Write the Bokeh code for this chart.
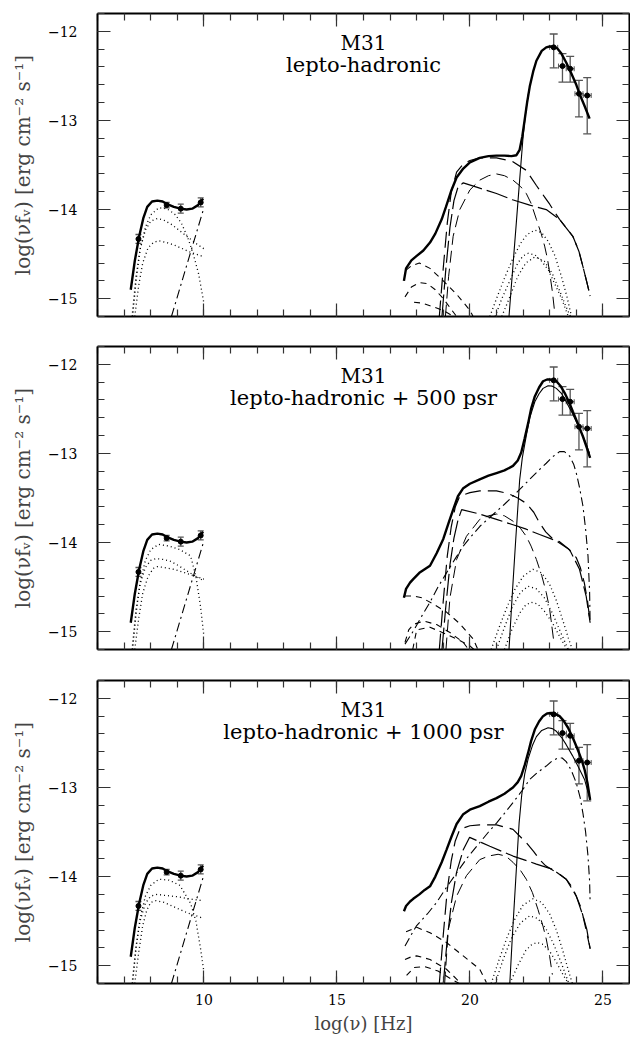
from bokeh.plotting import figure
from bokeh.layouts import column
from bokeh.models import (Range1d, LinearAxis, SingleIntervalTicker, CustomJSTickFormatter,
                          Whisker, ColumnDataSource, TeeHead, CustomLabelingPolicy)
from bokeh.core.properties import value
from bokeh.embed import file_html
from bokeh.resources import INLINE

FONT = "DejaVu Serif"

# ---------------- observations (same in every panel) ----------------
radio_x = [7.54, 8.60, 9.13, 9.88]
radio_y = [-14.33, -13.95, -13.99, -13.92]
radio_err = [0.05, 0.03, 0.05, 0.05]
gamma_x = [23.15, 23.48, 23.77, 24.10, 24.41]
gamma_y = [-12.18, -12.39, -12.42, -12.70, -12.72]
gamma_lo = [-12.41, -12.57, -12.57, -12.96, -13.15]
gamma_hi = [-12.03, -12.25, -12.28, -12.55, -12.52]
gamma_xerr = [0.15, 0.15, 0.15, 0.15, 0.15]

panel_titles = ["lepto-hadronic", "lepto-hadronic + 500 psr", "lepto-hadronic + 1000 psr"]
source_name = "M31"
x_label = "log(\u03bd) [Hz]"
y_label = "log(\u03bdf\u1d65) [erg cm\u207b\u00b2 s\u207b\u00b9]"

# ---------------- radio part ----------------
radio_total_x = [7.25, 7.40, 7.56, 7.72, 7.87, 8.05, 8.25, 8.45, 8.62, 8.87, 9.12, 9.35, 9.56, 9.78, 9.97]
radio_total_y = [-14.90, -14.58, -14.31, -14.10, -13.97, -13.91, -13.90, -13.91, -13.94, -13.97, -13.99, -14.00, -13.99, -13.95, -13.88]
radio_dd_x = [8.78, 9.20, 9.60, 10.00]
radio_dd_y = [-15.20, -14.78, -14.38, -13.98]

p1_rd1_x = [7.32, 7.45, 7.60, 7.80, 8.00, 8.30, 8.60, 8.90, 9.15, 9.40, 9.60, 9.80, 10.00]
p1_rd1_y = [-15.20, -14.80, -14.45, -14.20, -14.06, -13.98, -13.99, -14.05, -14.15, -14.32, -14.50, -14.72, -15.05]
p1_rd2_x = [7.30, 7.45, 7.60, 7.80, 8.00, 8.25, 8.50, 8.80, 9.10, 9.40, 9.70, 10.00]
p1_rd2_y = [-15.20, -14.75, -14.45, -14.23, -14.13, -14.10, -14.12, -14.17, -14.24, -14.31, -14.38, -14.44]
p1_rd3_x = [7.40, 7.55, 7.70, 7.90, 8.10, 8.30, 8.60, 8.90, 9.20, 9.50, 9.80, 10.00]
p1_rd3_y = [-15.20, -14.85, -14.60, -14.43, -14.37, -14.35, -14.37, -14.40, -14.44, -14.48, -14.51, -14.53]

p2_rd1_x = [7.32, 7.45, 7.60, 7.80, 8.00, 8.30, 8.69, 9.10, 9.50, 9.70, 9.87, 10.00]
p2_rd1_y = [-15.20, -14.80, -14.45, -14.20, -14.08, -14.02, -14.04, -14.08, -14.15, -14.38, -14.71, -15.05]
p2_rd2_x = [7.30, 7.45, 7.60, 7.80, 8.00, 8.19, 8.50, 8.75, 9.05, 9.37, 9.70, 10.00]
p2_rd2_y = [-15.20, -14.75, -14.47, -14.28, -14.20, -14.18, -14.19, -14.21, -14.26, -14.32, -14.38, -14.43]
p2_rd3_x = [7.40, 7.55, 7.70, 7.90, 8.10, 8.25, 8.50, 8.87, 9.20, 9.50, 9.80, 10.00]
p2_rd3_y = [-15.20, -14.85, -14.57, -14.38, -14.29, -14.27, -14.28, -14.30, -14.33, -14.36, -14.39, -14.41]

p3_rd1_x = [7.32, 7.45, 7.60, 7.80, 8.00, 8.30, 8.69, 9.10, 9.50, 9.70, 9.87, 10.00]
p3_rd1_y = [-15.20, -14.80, -14.47, -14.22, -14.10, -14.03, -14.04, -14.10, -14.30, -14.50, -14.80, -15.07]
p3_rd2_x = [7.30, 7.45, 7.60, 7.80, 8.00, 8.25, 8.50, 8.80, 9.10, 9.40, 9.70, 9.94]
p3_rd2_y = [-15.20, -14.78, -14.50, -14.30, -14.22, -14.20, -14.21, -14.22, -14.23, -14.25, -14.26, -14.27]
p3_rd3_x = [7.40, 7.55, 7.70, 7.85, 8.00, 8.20, 8.50, 8.80, 9.10, 9.40, 9.70, 10.00]
p3_rd3_y = [-15.20, -14.85, -14.55, -14.38, -14.29, -14.27, -14.29, -14.33, -14.37, -14.41, -14.44, -14.47]

# ---------------- high-energy part, panel 1 ----------------
p1_tot_x = [17.52, 17.60, 17.80, 18.00, 18.25, 18.50, 18.70, 18.94, 19.10, 19.31, 19.50, 19.75, 20.00, 20.37, 20.70, 21.00, 21.30, 21.56, 21.75, 21.87, 21.97, 22.06, 22.15, 22.25, 22.38, 22.50, 22.70, 22.87, 23.00, 23.12, 23.28, 23.44, 23.62, 23.81, 24.00, 24.12, 24.30, 24.50]
p1_tot_y = [-14.80, -14.66, -14.57, -14.52, -14.46, -14.37, -14.27, -14.11, -13.97, -13.78, -13.64, -13.54, -13.47, -13.42, -13.40, -13.395, -13.395, -13.40, -13.39, -13.33, -13.18, -12.99, -12.80, -12.62, -12.45, -12.33, -12.22, -12.18, -12.17, -12.17, -12.19, -12.25, -12.35, -12.47, -12.60, -12.70, -12.83, -12.98]
p1_pi_x = [21.47, 21.60, 21.75, 21.87, 22.00, 22.10, 22.20]
p1_pi_y = [-15.20, -14.70, -14.13, -13.67, -13.18, -12.90, -12.70]
p1_L1_x = [18.85, 19.00, 19.15, 19.30, 19.50, 19.75, 20.00, 20.37, 21.00, 21.60, 22.12, 22.50, 22.81, 23.00, 23.19, 23.37, 23.87, 24.10, 24.25, 24.40, 24.52]
p1_L1_y = [-15.20, -14.65, -14.15, -13.80, -13.58, -13.49, -13.45, -13.42, -13.42, -13.46, -13.56, -13.73, -13.86, -13.94, -14.03, -14.11, -14.30, -14.47, -14.64, -14.82, -14.97]
p1_L2_x = [18.95, 19.10, 19.25, 19.40, 19.55, 19.75, 20.37, 21.00, 21.60, 22.25, 22.87, 23.37, 23.87, 24.10, 24.25, 24.40, 24.52]
p1_L2_y = [-15.20, -14.65, -14.20, -13.90, -13.75, -13.70, -13.76, -13.82, -13.89, -13.95, -14.00, -14.11, -14.30, -14.47, -14.64, -14.82, -14.97]
p1_L3_x = [19.08, 19.20, 19.37, 19.62, 20.00, 20.37, 20.70, 21.00, 21.30, 21.62, 21.90, 22.12, 22.30, 22.50, 22.68, 22.81, 22.92, 23.00, 23.10, 23.19]
p1_L3_y = [-15.20, -14.75, -14.30, -14.00, -13.78, -13.67, -13.62, -13.60, -13.62, -13.67, -13.74, -13.82, -13.93, -14.11, -14.27, -14.41, -14.56, -14.71, -14.92, -15.16]
p1_d1_x = [20.75, 21.00, 21.30, 21.60, 21.90, 22.15, 22.44, 22.70, 22.95, 23.20, 23.45, 23.65, 23.82]
p1_d1_y = [-15.20, -15.00, -14.77, -14.56, -14.38, -14.28, -14.23, -14.26, -14.36, -14.52, -14.76, -14.98, -15.20]
p1_d2_x = [20.95, 21.20, 21.50, 21.80, 22.00, 22.20, 22.45, 22.70, 22.95, 23.20, 23.45, 23.70]
p1_d2_y = [-15.20, -15.00, -14.80, -14.60, -14.52, -14.49, -14.51, -14.58, -14.68, -14.84, -15.00, -15.20]
p1_d3_x = [21.20, 21.50, 21.80, 22.10, 22.45, 22.80, 23.10, 23.40, 23.60, 23.78]
p1_d3_y = [-15.20, -14.98, -14.75, -14.60, -14.53, -14.58, -14.72, -14.93, -15.08, -15.20]
p1_S1_x = [17.60, 17.80, 18.10, 18.50, 19.00, 19.50, 20.00, 20.12]
p1_S1_y = [-14.68, -14.63, -14.60, -14.66, -14.80, -14.95, -15.13, -15.20]
p1_S2_x = [17.56, 17.80, 18.10, 18.40, 18.70, 19.00, 19.30, 19.50]
p1_S2_y = [-14.98, -14.87, -14.82, -14.83, -14.90, -15.00, -15.12, -15.20]
p1_S3_x = [17.90, 18.20, 18.50, 18.80, 19.10, 19.40]
p1_S3_y = [-15.04, -15.05, -15.08, -15.11, -15.15, -15.20]

# ---------------- high-energy part, panel 2 ----------------
p2_tot_x = [17.52, 17.60, 17.75, 17.87, 18.10, 18.30, 18.50, 18.75, 19.00, 19.20, 19.37, 19.55, 19.75, 20.00, 20.37, 20.70, 21.00, 21.30, 21.62, 21.80, 21.93, 22.06, 22.19, 22.30, 22.44, 22.60, 22.75, 22.90, 23.00, 23.12, 23.25, 23.40, 23.56, 23.72, 23.87, 24.05, 24.25, 24.40, 24.52]
p2_tot_y = [-14.62, -14.52, -14.45, -14.41, -14.34, -14.30, -14.26, -14.12, -13.96, -13.78, -13.63, -13.48, -13.39, -13.34, -13.29, -13.25, -13.22, -13.19, -13.14, -13.08, -12.99, -12.83, -12.66, -12.50, -12.36, -12.26, -12.19, -12.17, -12.17, -12.175, -12.19, -12.24, -12.32, -12.42, -12.53, -12.66, -12.81, -12.94, -13.05]
p2_pi_x = [21.47, 21.60, 21.72, 21.87, 21.97, 22.12, 22.25, 22.44, 22.60, 22.75, 22.94, 23.10, 23.25, 23.45, 23.62, 23.85, 24.12, 24.30, 24.50]
p2_pi_y = [-15.20, -14.55, -13.98, -13.30, -13.05, -12.80, -12.60, -12.42, -12.33, -12.27, -12.24, -12.245, -12.27, -12.33, -12.42, -12.55, -12.72, -12.84, -13.00]
p2_dd_x = [17.56, 17.90, 18.20, 18.50, 18.80, 19.12, 19.45, 19.75, 20.05, 20.37, 20.70, 21.00, 21.30, 21.62, 21.95, 22.25, 22.55, 22.87, 23.10, 23.37, 23.55, 23.75, 23.90, 24.00, 24.12, 24.25, 24.35, 24.44, 24.50, 24.52]
p2_dd_y = [-15.14, -14.98, -14.82, -14.67, -14.50, -14.34, -14.18, -14.04, -13.93, -13.82, -13.73, -13.65, -13.57, -13.48, -13.38, -13.29, -13.20, -13.11, -13.04, -12.98, -12.98, -13.03, -13.12, -13.22, -13.38, -13.59, -13.85, -14.15, -14.55, -14.90]
p2_L1_x = [18.85, 19.00, 19.15, 19.30, 19.45, 19.62, 20.00, 20.37, 21.00, 21.44, 21.80, 22.12, 22.40, 22.62, 22.85, 23.12, 23.37, 23.70, 24.00, 24.15, 24.30, 24.42, 24.52]
p2_L1_y = [-15.20, -14.65, -14.15, -13.82, -13.60, -13.48, -13.44, -13.42, -13.42, -13.45, -13.50, -13.56, -13.66, -13.78, -13.88, -13.96, -13.99, -14.07, -14.17, -14.28, -14.45, -14.65, -14.90]
p2_L2_x = [18.95, 19.10, 19.25, 19.40, 19.55, 19.69, 20.37, 21.00, 21.62, 22.12, 22.62, 23.25, 23.75, 24.12, 24.37, 24.52]
p2_L2_y = [-15.20, -14.70, -14.25, -13.95, -13.75, -13.63, -13.68, -13.74, -13.80, -13.85, -13.91, -13.98, -14.08, -14.30, -14.60, -14.90]
p2_L3_x = [19.10, 19.25, 19.50, 19.87, 20.37, 20.70, 21.00, 21.30, 21.62, 21.90, 22.12, 22.30, 22.50, 22.70, 22.87, 23.00, 23.15]
p2_L3_y = [-15.20, -14.62, -14.19, -13.93, -13.74, -13.70, -13.68, -13.70, -13.76, -13.84, -13.93, -14.04, -14.19, -14.37, -14.56, -14.75, -15.10]
p2_d1_x = [20.80, 21.10, 21.40, 21.70, 22.00, 22.37, 22.70, 23.00, 23.25, 23.50, 23.70, 23.85]
p2_d1_y = [-15.20, -14.95, -14.72, -14.52, -14.38, -14.30, -14.34, -14.47, -14.65, -14.88, -15.07, -15.20]
p2_d2_x = [21.00, 21.30, 21.60, 21.90, 22.19, 22.50, 22.80, 23.10, 23.40, 23.70]
p2_d2_y = [-15.20, -14.95, -14.72, -14.56, -14.49, -14.52, -14.62, -14.79, -15.00, -15.20]
p2_d3_x = [21.30, 21.60, 21.90, 22.10, 22.31, 22.55, 22.80, 23.10, 23.40, 23.65]
p2_d3_y = [-15.20, -14.96, -14.78, -14.70, -14.67, -14.69, -14.77, -14.90, -15.07, -15.20]
p2_S1_x = [17.56, 17.90, 18.20, 18.62, 19.12, 19.62, 20.12, 20.30]
p2_S1_y = [-14.60, -14.60, -14.62, -14.69, -14.78, -14.91, -15.08, -15.20]
p2_S2_x = [17.56, 17.70, 17.87, 18.25, 18.75, 19.25, 19.75, 19.95]
p2_S2_y = [-15.12, -14.98, -14.92, -14.88, -14.92, -15.01, -15.12, -15.20]
p2_S3_x = [17.85, 18.00, 18.50, 19.12, 19.62, 20.00, 20.15]
p2_S3_y = [-15.20, -14.98, -14.95, -15.03, -15.10, -15.16, -15.20]

# ---------------- high-energy part, panel 3 ----------------
p3_tot_x = [17.52, 17.60, 17.75, 17.87, 18.10, 18.30, 18.50, 18.70, 18.94, 19.12, 19.31, 19.50, 19.75, 20.00, 20.37, 20.70, 21.00, 21.30, 21.62, 21.80, 21.93, 22.06, 22.19, 22.30, 22.44, 22.60, 22.75, 22.90, 23.06, 23.20, 23.37, 23.52, 23.69, 23.88, 24.06, 24.20, 24.31, 24.42, 24.52]
p3_tot_y = [-14.39, -14.33, -14.28, -14.25, -14.20, -14.15, -14.11, -14.00, -13.84, -13.70, -13.55, -13.41, -13.30, -13.25, -13.21, -13.16, -13.12, -13.07, -13.00, -12.94, -12.87, -12.75, -12.61, -12.48, -12.35, -12.26, -12.20, -12.17, -12.165, -12.175, -12.20, -12.25, -12.33, -12.45, -12.58, -12.69, -12.80, -12.95, -13.14]
p3_pi_x = [21.50, 21.60, 21.72, 21.85, 21.95, 22.06, 22.19, 22.35, 22.50, 22.70, 22.94, 23.10, 23.25, 23.45, 23.62, 23.85, 24.06, 24.31, 24.52]
p3_pi_y = [-15.20, -14.65, -14.05, -13.40, -13.08, -12.85, -12.68, -12.53, -12.43, -12.36, -12.33, -12.34, -12.37, -12.44, -12.52, -12.64, -12.76, -12.91, -13.14]
p3_dd_x = [17.56, 17.80, 18.00, 18.40, 18.75, 19.10, 19.50, 19.90, 20.37, 20.70, 21.00, 21.30, 21.62, 21.95, 22.25, 22.55, 22.87, 23.10, 23.31, 23.47, 23.62, 23.80, 24.00, 24.15, 24.25, 24.35, 24.44, 24.50, 24.52]
p3_dd_y = [-14.78, -14.65, -14.55, -14.42, -14.29, -14.13, -13.96, -13.79, -13.62, -13.50, -13.40, -13.29, -13.17, -13.04, -12.91, -12.83, -12.76, -12.70, -12.67, -12.67, -12.71, -12.80, -12.95, -13.12, -13.29, -13.50, -13.77, -14.05, -14.29]
p3_L1_x = [18.85, 19.00, 19.15, 19.30, 19.45, 19.62, 20.00, 20.37, 21.00, 21.62, 22.12, 22.40, 22.62, 22.85, 23.12, 23.40, 23.62, 23.85, 24.00, 24.15, 24.25, 24.37, 24.52]
p3_L1_y = [-15.20, -14.65, -14.15, -13.82, -13.60, -13.47, -13.43, -13.42, -13.42, -13.47, -13.62, -13.72, -13.81, -13.88, -13.93, -13.98, -14.03, -14.12, -14.22, -14.33, -14.44, -14.60, -14.81]
p3_L2_x = [19.00, 19.15, 19.30, 19.50, 19.75, 19.99, 20.75, 21.62, 22.50, 23.12, 23.62, 24.00, 24.25, 24.40, 24.52]
p3_L2_y = [-15.20, -14.70, -14.30, -13.95, -13.70, -13.56, -13.66, -13.77, -13.86, -13.92, -14.03, -14.22, -14.44, -14.60, -14.81]
p3_L3_x = [19.05, 19.19, 19.50, 19.87, 20.37, 20.70, 21.06, 21.35, 21.62, 21.90, 22.12, 22.35, 22.56, 22.75, 22.87, 23.00, 23.10]
p3_L3_y = [-15.20, -14.59, -14.22, -13.99, -13.81, -13.77, -13.75, -13.77, -13.84, -13.93, -14.03, -14.18, -14.37, -14.56, -14.70, -14.90, -15.10]
p3_d1_x = [20.80, 21.10, 21.40, 21.70, 22.00, 22.37, 22.70, 23.00, 23.25, 23.50, 23.70, 23.85]
p3_d1_y = [-15.20, -14.93, -14.68, -14.47, -14.32, -14.25, -14.29, -14.42, -14.60, -14.84, -15.05, -15.20]
p3_d2_x = [20.95, 21.25, 21.55, 21.90, 22.25, 22.55, 22.85, 23.15, 23.45, 23.72]
p3_d2_y = [-15.20, -14.93, -14.70, -14.52, -14.44, -14.47, -14.58, -14.76, -14.98, -15.20]
p3_d3_x = [21.50, 21.80, 22.10, 22.30, 22.50, 22.75, 23.00, 23.25, 23.50, 23.70]
p3_d3_y = [-15.20, -15.00, -14.83, -14.77, -14.74, -14.76, -14.84, -14.96, -15.10, -15.20]
p3_S1_x = [17.60, 18.00, 18.50, 19.12, 19.75, 20.37, 20.62]
p3_S1_y = [-14.62, -14.57, -14.63, -14.74, -14.89, -15.04, -15.19]
p3_S2_x = [17.56, 17.80, 18.00, 18.50, 19.12, 19.50, 19.65]
p3_S2_y = [-14.93, -14.90, -14.89, -14.93, -15.04, -15.15, -15.20]
p3_S3_x = [17.62, 17.90, 18.30, 18.80, 19.30, 19.60]
p3_S3_y = [-15.11, -15.02, -15.01, -15.06, -15.15, -15.20]

# ---------------- styles ----------------
STY = {
    "total": dict(line_width=2.4),
    "thin": dict(line_width=1.1),
    "L1": dict(line_width=1.2, line_dash="16 7"),
    "L2": dict(line_width=1.2, line_dash="22 5"),
    "L3": dict(line_width=1.0, line_dash="12 6"),
    "S": dict(line_width=1.1, line_dash="6 5"),
    "dot": dict(line_width=1.3, line_dash="1 3"),
    "dd": dict(line_width=1.1, line_dash="9 4 2 4"),
}

panels = [
    [("total", radio_total_x, radio_total_y), ("dot", p1_rd1_x, p1_rd1_y), ("dot", p1_rd2_x, p1_rd2_y),
     ("dot", p1_rd3_x, p1_rd3_y), ("dd", radio_dd_x, radio_dd_y),
     ("total", p1_tot_x, p1_tot_y), ("thin", p1_pi_x, p1_pi_y), ("L1", p1_L1_x, p1_L1_y),
     ("L2", p1_L2_x, p1_L2_y), ("L3", p1_L3_x, p1_L3_y), ("dot", p1_d1_x, p1_d1_y),
     ("dot", p1_d2_x, p1_d2_y), ("dot", p1_d3_x, p1_d3_y), ("S", p1_S1_x, p1_S1_y),
     ("S", p1_S2_x, p1_S2_y), ("S", p1_S3_x, p1_S3_y)],
    [("total", radio_total_x, radio_total_y), ("dot", p2_rd1_x, p2_rd1_y), ("dot", p2_rd2_x, p2_rd2_y),
     ("dot", p2_rd3_x, p2_rd3_y), ("dd", radio_dd_x, radio_dd_y),
     ("total", p2_tot_x, p2_tot_y), ("thin", p2_pi_x, p2_pi_y), ("dd", p2_dd_x, p2_dd_y),
     ("L1", p2_L1_x, p2_L1_y), ("L2", p2_L2_x, p2_L2_y), ("L3", p2_L3_x, p2_L3_y),
     ("dot", p2_d1_x, p2_d1_y), ("dot", p2_d2_x, p2_d2_y), ("dot", p2_d3_x, p2_d3_y),
     ("S", p2_S1_x, p2_S1_y), ("S", p2_S2_x, p2_S2_y), ("S", p2_S3_x, p2_S3_y)],
    [("total", radio_total_x, radio_total_y), ("dot", p3_rd1_x, p3_rd1_y), ("dot", p3_rd2_x, p3_rd2_y),
     ("dot", p3_rd3_x, p3_rd3_y), ("dd", radio_dd_x, radio_dd_y),
     ("total", p3_tot_x, p3_tot_y), ("thin", p3_pi_x, p3_pi_y), ("dd", p3_dd_x, p3_dd_y),
     ("L1", p3_L1_x, p3_L1_y), ("L2", p3_L2_x, p3_L2_y), ("L3", p3_L3_x, p3_L3_y),
     ("dot", p3_d1_x, p3_d1_y), ("dot", p3_d2_x, p3_d2_y), ("dot", p3_d3_x, p3_d3_y),
     ("S", p3_S1_x, p3_S1_y), ("S", p3_S2_x, p3_S2_y), ("S", p3_S3_x, p3_S3_y)],
]

minus_fmt = "return tick < 0 ? '\u2212' + Math.abs(tick) : String(tick);"
hide_all = "const all = [...indices]; for (const i of all) { indices.unset(i) } return indices;"


def style_axis(ax, labels):
    ax.axis_line_width = 2
    ax.axis_line_color = "black"
    ax.major_tick_in = 13
    ax.major_tick_out = 0
    ax.minor_tick_in = 7
    ax.minor_tick_out = 0
    ax.major_tick_line_color = "#333333"
    ax.minor_tick_line_color = "#333333"
    ax.major_tick_line_width = 1.2
    ax.minor_tick_line_width = 1.2
    ax.formatter = CustomJSTickFormatter(code=minus_fmt)
    if labels:
        ax.major_label_text_font = FONT
        ax.major_label_text_font_size = "14px"
        ax.major_label_text_color = "black"
    else:
        ax.major_label_text_font_size = "1px"
        ax.major_label_standoff = 0
        ax.major_label_policy = CustomLabelingPolicy(code=hide_all)


def make_panel(i, top, bottom):
    last = (i == 2)
    p = figure(frame_width=532, frame_height=303,
               x_range=Range1d(6, 26), y_range=Range1d(-15.2, -11.8),
               output_backend="svg", toolbar_location=None,
               min_border_left=97, min_border_right=1, min_border_top=top, min_border_bottom=bottom,
               background_fill_color="white", border_fill_color="white", outline_line_color=None)
    p.grid.visible = False

    xa = p.xaxis[0]
    xa.ticker = SingleIntervalTicker(interval=5, num_minor_ticks=5)
    style_axis(xa, last)
    if last:
        xa.major_label_standoff = 10
        xa.axis_label = x_label
        xa.axis_label_text_font = FONT
        xa.axis_label_text_font_size = "18px"
        xa.axis_label_text_font_style = "normal"
        xa.axis_label_standoff = 5
    ya = p.yaxis[0]
    ya.ticker = SingleIntervalTicker(interval=1, num_minor_ticks=5)
    style_axis(ya, True)
    ya.major_label_standoff = 20
    ya.axis_label = y_label
    ya.axis_label_text_font = FONT
    ya.axis_label_text_font_size = "20px"
    ya.axis_label_text_font_style = "normal"
    ya.axis_label_standoff = 10

    ra = LinearAxis(ticker=SingleIntervalTicker(interval=1, num_minor_ticks=5))
    style_axis(ra, False)
    p.add_layout(ra, "right")
    ta = LinearAxis(ticker=SingleIntervalTicker(interval=5, num_minor_ticks=5))
    style_axis(ta, False)
    p.add_layout(ta, "above")

    for kind, xs, ys in panels[i]:
        p.line(xs, ys, line_color="black", **STY[kind])

    # observations
    gsrc = ColumnDataSource(dict(x=gamma_x, y=gamma_y, lo=gamma_lo, hi=gamma_hi,
                                 xl=[a - e for a, e in zip(gamma_x, gamma_xerr)],
                                 xh=[a + e for a, e in zip(gamma_x, gamma_xerr)]))
    p.add_layout(Whisker(source=gsrc, base="x", lower="lo", upper="hi", line_color="#555555", line_width=1.3,
                         upper_head=TeeHead(size=8, line_color="#555555", line_width=1.3),
                         lower_head=TeeHead(size=8, line_color="#555555", line_width=1.3)))
    p.add_layout(Whisker(source=gsrc, base="y", lower="xl", upper="xh", dimension="width",
                         line_color="#555555", line_width=1.3,
                         upper_head=TeeHead(size=5, line_color="#555555", line_width=1.0),
                         lower_head=TeeHead(size=5, line_color="#555555", line_width=1.0)))
    rsrc = ColumnDataSource(dict(x=radio_x, y=radio_y,
                                 lo=[a - e for a, e in zip(radio_y, radio_err)],
                                 hi=[a + e for a, e in zip(radio_y, radio_err)]))
    p.add_layout(Whisker(source=rsrc, base="x", lower="lo", upper="hi", line_color="#555555", line_width=1.3,
                         upper_head=TeeHead(size=6, line_color="#555555", line_width=1.3),
                         lower_head=TeeHead(size=6, line_color="#555555", line_width=1.3)))
    p.scatter(gamma_x, gamma_y, size=5, color="black")
    p.scatter(radio_x, radio_y, size=5, color="black")

    p.text(x=[16.0], y=[-12.135], text=[source_name], text_font=value(FONT), text_font_size=value("20px"),
           text_align="center", text_baseline="middle", text_color="black")
    p.text(x=[16.0], y=[-12.375], text=[panel_titles[i]], text_font=value(FONT), text_font_size=value("21px"),
           text_align="center", text_baseline="middle", text_color="black")
    return p


p1 = make_panel(0, 13, 15)
p2 = make_panel(1, 15, 16)
p3 = make_panel(2, 15, 54)

layout = column(p1, p2, p3, spacing=0)
open("out.html", "w", encoding="utf-8").write(file_html(layout, INLINE))
